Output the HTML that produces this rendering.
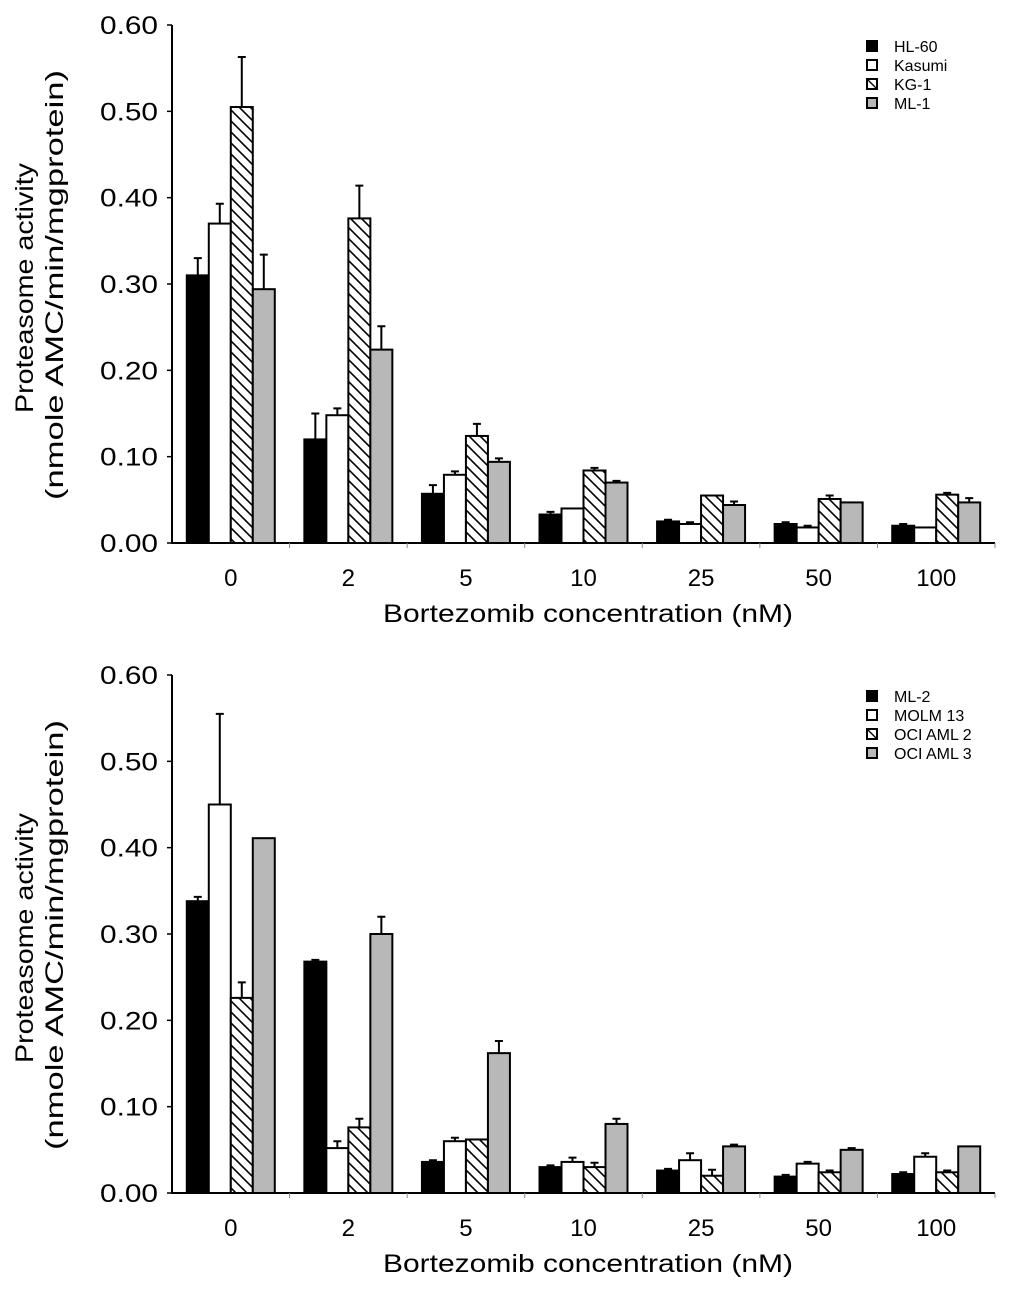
<!DOCTYPE html>
<html><head><meta charset="utf-8"><style>
body{margin:0;background:#fff;width:1024px;height:1288px;overflow:hidden}
svg{font-family:"Liberation Sans",Arial,sans-serif}
</style></head><body>
<svg id="c" width="1024" height="1288">
<defs><pattern id="hatch" patternUnits="userSpaceOnUse" width="11" height="11">
<rect width="11" height="11" fill="#fff"/><path d="M0,0 L11,11 M-2,9 L2,13 M9,-2 L13,2" stroke="#000" stroke-width="1.6"/></pattern></defs>
</svg>
<script>
const categories=["0","2","5","10","25","50","100"];
const yTicks=["0.00","0.10","0.20","0.30","0.40","0.50","0.60"];
const topNames=["HL-60","Kasumi","KG-1","ML-1"];
const topHL60=[0.31,0.12,0.057,0.033,0.025,0.022,0.020];
const topHL60Err=[0.02,0.03,0.01,0.003,0.002,0.002,0.002];
const topKasumi=[0.37,0.148,0.079,0.040,0.022,0.018,0.018];
const topKasumiErr=[0.023,0.008,0.004,0,0.002,0.002,0];
const topKG1=[0.505,0.376,0.124,0.084,0.055,0.051,0.056];
const topKG1Err=[0.058,0.038,0.014,0.003,0,0.004,0.002];
const topML1=[0.294,0.224,0.094,0.070,0.044,0.047,0.047];
const topML1Err=[0.04,0.027,0.004,0.002,0.004,0,0.005];
const botNames=["ML-2","MOLM 13","OCI AML 2","OCI AML 3"];
const botML2=[0.338,0.268,0.036,0.030,0.026,0.019,0.022];
const botML2Err=[0.005,0.002,0.002,0.002,0.002,0.002,0.002];
const botMOLM13=[0.45,0.052,0.060,0.036,0.038,0.034,0.042];
const botMOLM13Err=[0.105,0.008,0.004,0.005,0.008,0.002,0.004];
const botOCI2=[0.226,0.076,0.062,0.030,0.020,0.024,0.024];
const botOCI2Err=[0.018,0.01,0,0.005,0.007,0.002,0.002];
const botOCI3=[0.411,0.300,0.162,0.080,0.054,0.050,0.054];
const botOCI3Err=[0,0.02,0.014,0.006,0.002,0.002,0];

const svg=document.getElementById('c');
const NS="http://www.w3.org/2000/svg";
function el(t,a,p){const e=document.createElementNS(NS,t);for(const k in a)e.setAttribute(k,a[k]);(p||svg).appendChild(e);return e;}
const fills=["#000","#fff","url(#hatch)","#b8b8b8"];
function chart(y0,prefix,names,series,errs){
  const g=el('g',{});
  
  
  const x0=172,x1=995,h=518;
  const ys=v=>y0-v/0.6*h;
  const gw=(x1-x0)/categories.length;
  const xs=i=>x0+gw*i+gw/2;
  yTicks.forEach((t,i)=>{const y=ys(i*0.1);
    const l=el('line',{x1:x0-5,x2:x0,y1:y,y2:y,stroke:'#000','stroke-width':1.5},g);
    
    const tx=el('text',{x:158,y:y+9,'font-size':25,'text-anchor':'end',textLength:58,lengthAdjust:'spacingAndGlyphs'},g);tx.textContent=t;
    });
  const bw=22;
  series.forEach((s,si)=>{s.forEach((v,i)=>{
    const x=xs(i)-2*bw+si*bw,y=ys(v);
    const r=el('rect',{x:x,y:y,width:bw,height:y0-y,fill:fills[si],stroke:'#000','stroke-width':2},g);
    
    
    const e=errs[si][i];if(e>0){const ye=ys(v+e),cx=x+bw/2;
      const eb=el('path',{d:`M${cx},${y} V${ye} M${cx-4},${ye} H${cx+4}`,stroke:'#000','stroke-width':2,fill:'none'},g);
      }
  });});
  const ax=el('path',{d:`M${x0},${ys(0.6)} V${y0} H${x1}`,stroke:'#000','stroke-width':2,fill:'none'},g);
  
  categories.forEach((c,i)=>{const xt=x0+gw*(i+1);
    const l=el('line',{x1:xt,x2:xt,y1:y0,y2:y0+5,stroke:'#888','stroke-width':1},g);
    
    const t=el('text',{x:xs(i),y:y0+43,'font-size':24,'text-anchor':'middle'},g);t.textContent=c;
    });
  const xt=el('text',{x:588,y:y0+79,'font-size':25,'text-anchor':'middle',textLength:410,lengthAdjust:'spacingAndGlyphs'},g);xt.textContent="Bortezomib concentration (nM)";
  
  const cy=y0-258;
  const t1=el('text',{x:0,y:0,'font-size':25,'text-anchor':'middle',textLength:250,lengthAdjust:'spacingAndGlyphs',transform:`translate(33,${cy+3}) rotate(-90)`},g);t1.textContent="Proteasome activity";
  
  const t2=el('text',{x:0,y:0,'font-size':25,'text-anchor':'middle',textLength:430,lengthAdjust:'spacingAndGlyphs',transform:`translate(63,${cy}) rotate(-90)`},g);t2.textContent="(nmole AMC/min/mgprotein)";
  
  names.forEach((n,i)=>{const ly=y0-497+i*19;
    const lg=el('g',{},g);
    
    el('rect',{x:867,y:ly-5,width:10,height:10,fill:fills[i]==="url(#hatch)"?"#fff":fills[i],stroke:'#000','stroke-width':2},lg);
    if(fills[i]==="url(#hatch)")el('path',{d:`M868,${ly-4} L876,${ly+4}`,stroke:'#000','stroke-width':1.3},lg);
    const t=el('text',{x:894,y:ly+6,'font-size':16},lg);t.textContent=n;});
}
chart(543,'top',topNames,[topHL60,topKasumi,topKG1,topML1],[topHL60Err,topKasumiErr,topKG1Err,topML1Err]);
chart(1193,'bottom',botNames,[botML2,botMOLM13,botOCI2,botOCI3],[botML2Err,botMOLM13Err,botOCI2Err,botOCI3Err]);
</script>
</body></html>
